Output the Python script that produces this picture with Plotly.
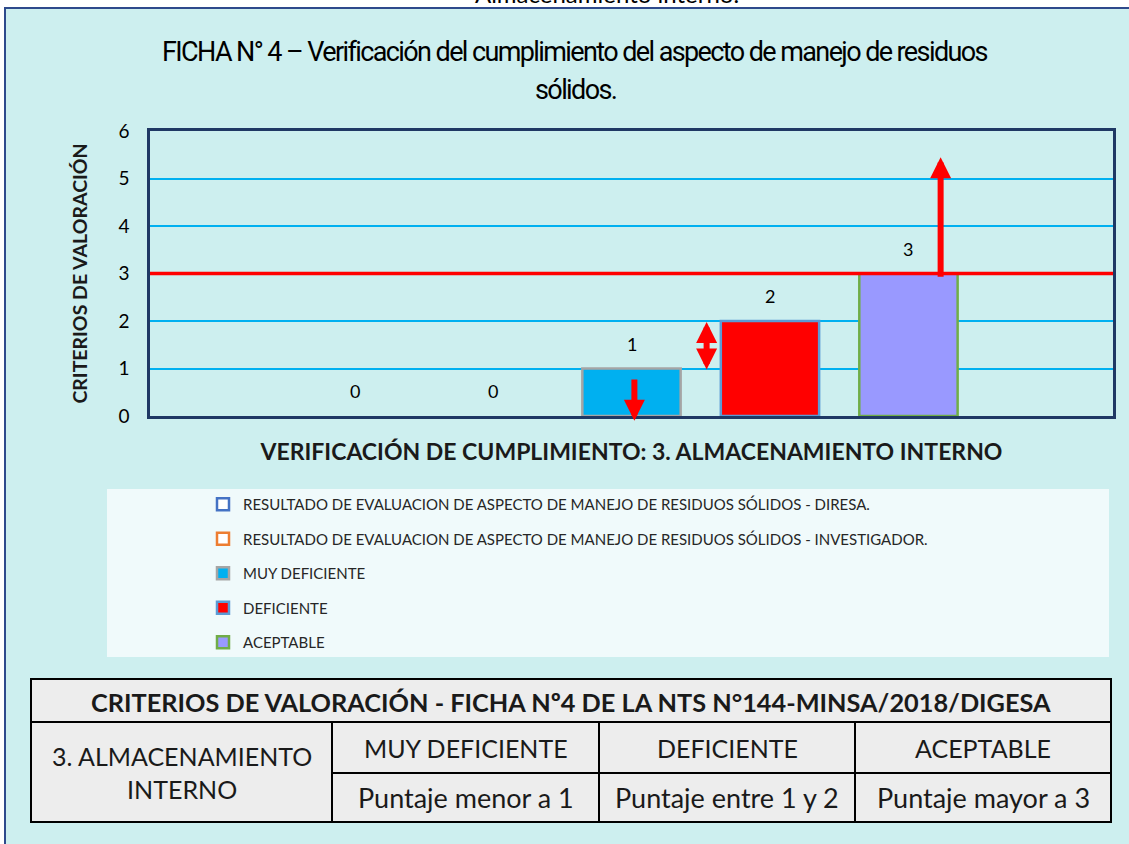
import plotly.graph_objects as go

CATEGORY = "3. ALMACENAMIENTO INTERNO"
SERIES = [
    "RESULTADO DE EVALUACION DE ASPECTO DE MANEJO DE RESIDUOS SÓLIDOS - DIRESA.",
    "RESULTADO DE EVALUACION DE ASPECTO DE MANEJO DE RESIDUOS SÓLIDOS - INVESTIGADOR.",
    "MUY DEFICIENTE",
    "DEFICIENTE",
    "ACEPTABLE",
]
VALUES = [0, 0, 1, 2, 3]
FILLS = ["#FFFFFF", "#FFFFFF", "#00B0F0", "#FF0000", "#9999FF"]
EDGES = ["#4472C4", "#ED7D31", "#A5A5A5", "#5B9BD5", "#70AD47"]
THRESHOLD = 3
Y_TICKS = [0, 1, 2, 3, 4, 5, 6]

# arrows: (x offset in category units, tail y, head y, double headed)
ARROWS = [(0.003, 0.8, -0.1, False), (0.078, 0.95, 1.98, True), (0.321, 2.9, 5.45, False)]

TITLE_LINES = [
    "FICHA N° 4 – Verificación del cumplimiento del aspecto de manejo de residuos",
    "sólidos.",
]
TABLE_HEADER = "CRITERIOS DE VALORACIÓN - FICHA Nº4 DE LA NTS N°144-MINSA/2018/DIGESA"
TABLE_ROW_LABEL = ["3. ALMACENAMIENTO", "INTERNO"]
TABLE_LEVELS = ["MUY DEFICIENTE", "DEFICIENTE", "ACEPTABLE"]
TABLE_RULES = ["Puntaje menor a 1", "Puntaje entre 1 y 2", "Puntaje mayor a 3"]

W, H = 1129, 844
PLOT_X = (150, 1113)
PLOT_Y = (131, 416)
L, R = PLOT_X[0], W - PLOT_X[1]
T, B = PLOT_Y[0], H - PLOT_Y[1]
BARGAP = 0.281
FONT = "Lato, Open Sans, sans-serif"
TXT = "#1a1a1a"


def px_x(p):
    return (p - PLOT_X[0]) / (PLOT_X[1] - PLOT_X[0])


def px_y(p):
    return (PLOT_Y[1] - p) / (PLOT_Y[1] - PLOT_Y[0])


fig = go.Figure()
for name, val, fill, edge in zip(SERIES, VALUES, FILLS, EDGES):
    fig.add_trace(
        go.Bar(
            x=[CATEGORY],
            y=[val if val else None],
            name=name,
            legendgroup=name,
            marker=dict(color=fill, line=dict(color=edge, width=2.5)),
            hoverinfo="skip",
        )
    )

shapes = [
    # panel background
    dict(type="rect", xref="paper", yref="paper",
         x0=px_x(5), x1=px_x(1140), y0=px_y(8), y1=px_y(860),
         fillcolor="#CDEFEF", line=dict(color="#2E4A8C", width=2), layer="below"),
    # legend box
    dict(type="rect", xref="paper", yref="paper",
         x0=px_x(107), x1=px_x(1109), y0=px_y(489), y1=px_y(657),
         fillcolor="#F0FAFB", line=dict(width=0), layer="below"),
    # threshold line
    dict(type="line", xref="x domain", yref="y", x0=0, x1=1, y0=THRESHOLD, y1=THRESHOLD,
         line=dict(color="#FF0000", width=3.5), layer="above"),
]

# table drawn with rectangles (it has a merged cell)
cols = [31, 332, 599, 855, 1111]
rows = [679, 722, 773, 822]
cell_fill = "#EDEDED"
cell_line = dict(color="black", width=2)


def cell(x0, x1, y0, y1):
    return dict(type="rect", xref="paper", yref="paper",
                x0=px_x(x0), x1=px_x(x1), y0=px_y(y0), y1=px_y(y1),
                fillcolor=cell_fill, line=cell_line)


shapes.append(cell(cols[0], cols[-1], rows[0], rows[1]))
shapes.append(cell(cols[0], cols[1], rows[1], rows[3]))
for i in range(3):
    for j in range(2):
        shapes.append(cell(cols[i + 1], cols[i + 2], rows[j + 1], rows[j + 2]))


def label(text, x, y, size, bold=False, color=TXT):
    return dict(text=text, xref="paper", yref="paper", x=px_x(x), y=px_y(y),
                xanchor="center", yanchor="middle", showarrow=False,
                font=dict(family=FONT, size=size, color=color,
                          weight="bold" if bold else "normal"))


annotations = [
    dict(text="Almacenamiento interno.", xref="paper", yref="paper",
         x=px_x(607), y=px_y(10), xanchor="center", yanchor="bottom",
         showarrow=False, font=dict(family=FONT, size=24, color="black")),
    label(TABLE_HEADER, (cols[0] + cols[-1]) / 2, (rows[0] + rows[1]) / 2 + 1, 25.3, bold=True),
    label("<br>".join(TABLE_ROW_LABEL), (cols[0] + cols[1]) / 2, (rows[1] + rows[3]) / 2, 25),
]
for i, (lvl, rule) in enumerate(zip(TABLE_LEVELS, TABLE_RULES)):
    cx = (cols[i + 1] + cols[i + 2]) / 2
    annotations.append(label(lvl, cx, (rows[1] + rows[2]) / 2, 25))
    annotations.append(label(rule, cx, (rows[2] + rows[3]) / 2, 27))

# title as two annotation lines (condensed look via letter spacing)
for line, y in zip(TITLE_LINES, [52, 90]):
    annotations.append(dict(
        text=f"<span style='letter-spacing:-1.6px'>{line}</span>",
        xref="paper", yref="paper", x=px_x(575), y=px_y(y),
        xanchor="center", yanchor="middle", showarrow=False,
        font=dict(family="Roboto, sans-serif", size=27, color="black")))

# data labels above each bar
slot = (1 - BARGAP) / len(SERIES)
for k, val in enumerate(VALUES):
    annotations.append(dict(text=str(val), x=-(1 - BARGAP) / 2 + slot * (k + 0.5), y=val,
                            xref="x", yref="y", yshift=25, showarrow=False,
                            font=dict(family=FONT, size=18, color="black")))

for ax_x, y_tail, y_head, both in ARROWS:
    annotations.append(dict(text="", x=ax_x, y=y_head, ax=ax_x, ay=y_tail,
                            xref="x", yref="y", axref="x", ayref="y",
                            showarrow=True, arrowhead=2, arrowsize=0.7, arrowwidth=6,
                            arrowcolor="#FF0000",
                            arrowside="end+start" if both else "end",
                            startarrowhead=2, startarrowsize=0.7))

fig.update_layout(
    width=W,
    height=H,
    margin=dict(l=L, r=R, t=T, b=B),
    paper_bgcolor="white",
    plot_bgcolor="rgba(0,0,0,0)",
    barmode="group",
    bargap=BARGAP,
    bargroupgap=0.29,
    font=dict(family=FONT, color="black"),
    xaxis=dict(
        showticklabels=False,
        showgrid=False,
        showline=True, mirror=True, linecolor="#1F3864", linewidth=2.5,
        title=dict(text="VERIFICACIÓN DE CUMPLIMIENTO: 3. ALMACENAMIENTO INTERNO",
                   font=dict(family=FONT, size=23, weight="bold", color=TXT), standoff=27),
    ),
    yaxis=dict(
        range=[0, 6],
        tickvals=Y_TICKS,
        tickfont=dict(family=FONT, size=19, color="black"),
        ticks="outside", ticklen=14, tickcolor="rgba(0,0,0,0)",
        showgrid=True, gridcolor="#00B0F0", gridwidth=2,
        zeroline=False,
        showline=True, mirror=True, linecolor="#1F3864", linewidth=2.5,
        title=dict(text="CRITERIOS DE VALORACIÓN",
                   font=dict(family=FONT, size=19.5, weight="bold", color=TXT), standoff=26),
    ),
    legend=dict(
        x=px_x(203), y=px_y(488), xanchor="left", yanchor="top",
        bgcolor="rgba(0,0,0,0)",
        font=dict(family=FONT, size=15, color="#262626"),
        tracegroupgap=12,
        itemclick=False,
    ),
    shapes=shapes,
    annotations=annotations,
)

# drop the default page margin so the figure sits at the window's corner
fig.write_html(
    "out.html",
    config={"displayModeBar": False},
    post_script="document.body.style.margin='0';",
)
